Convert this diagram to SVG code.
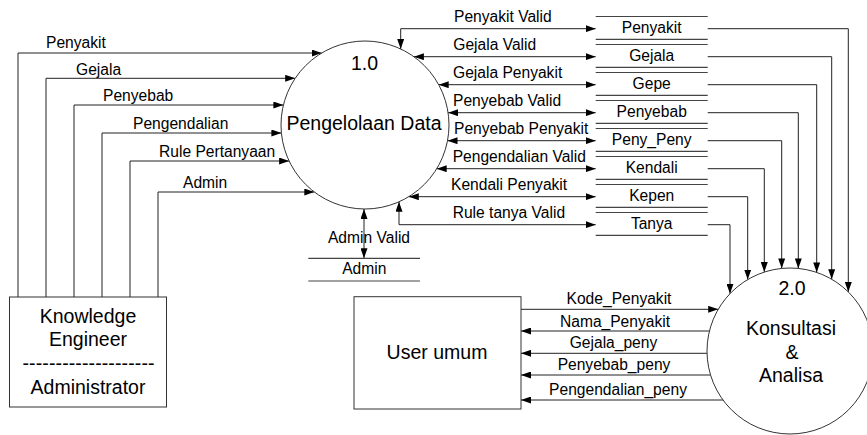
<svg xmlns="http://www.w3.org/2000/svg" width="867" height="435" viewBox="0 0 867 435">
<defs>
<style>
text{font-family:"Liberation Sans",Arial,sans-serif;fill:#000}
.big{font-size:19.5px;text-anchor:middle}
.lbl{font-size:15.6px}
.ctr{text-anchor:middle}
.shape{fill:#fff;stroke:#333;stroke-width:1}
.store{stroke:#444;stroke-width:1.2;fill:none}
.flow{fill:none;stroke:#222;stroke-width:1}
.one{marker-end:url(#ah)}
.two{marker-start:url(#ah);marker-end:url(#ah)}
</style>
<marker id="ah" markerWidth="11" markerHeight="7" refX="10" refY="3.5" orient="auto-start-reverse" markerUnits="userSpaceOnUse"><path d="M0,0 L10,3.5 L0,7 z" fill="#000"/></marker>
</defs>
<rect width="867" height="435" fill="#fff"/>

<g id="connectors">
<path class="flow one" d="M18,297 V53 H321.7"/>
<path class="flow one" d="M46,297 V78.3 H295.2"/>
<path class="flow one" d="M74,297 V105 H283.4"/>
<path class="flow one" d="M102,297 V133 H281.4"/>
<path class="flow one" d="M130,297 V161 H289.1"/>
<path class="flow one" d="M158,297 V192 H314.3"/>

<path class="flow two" d="M400.7,49 V28.7 H595.7"/>
<path class="flow two" d="M413.9,56.7 H595.7"/>
<path class="flow two" d="M438.7,84.7 H595.7"/>
<path class="flow two" d="M448.1,112.7 H595.7"/>
<path class="flow two" d="M447.5,140.7 H595.7"/>
<path class="flow two" d="M436.7,168.7 H595.7"/>
<path class="flow two" d="M408.8,196.7 H595.7"/>
<path class="flow two" d="M399,201.8 V224.7 H595.7"/>
<path class="flow two" d="M364,209 V258.3"/>

<path class="flow one" d="M707.7,28.7 H848.3 V291.9"/>
<path class="flow one" d="M707.7,56.7 H831.7 V279.2"/>
<path class="flow one" d="M707.7,84.7 H816.7 V272.4"/>
<path class="flow one" d="M707.7,112.7 H798.3 V268.4"/>
<path class="flow one" d="M707.7,140.7 H781.7 V268.4"/>
<path class="flow one" d="M707.7,168.7 H764.3 V272.1"/>
<path class="flow one" d="M707.7,196.7 H747.7 V279.6"/>
<path class="flow one" d="M707.7,224.7 H730 V293.7"/>

<path class="flow one" d="M521,309.3 H718.2"/>
<path class="flow one" d="M709.4,331 H521"/>
<path class="flow one" d="M707,353.3 H521"/>
<path class="flow one" d="M710.5,375 H521"/>
<path class="flow one" d="M723,400 H521"/>

<g id="connector-labels">
<text class="lbl" x="46" y="48">Penyakit</text>
<text class="lbl" x="76" y="75">Gejala</text>
<text class="lbl" x="103" y="101">Penyebab</text>
<text class="lbl" x="133" y="129">Pengendalian</text>
<text class="lbl" x="159" y="157">Rule Pertanyaan</text>
<text class="lbl" x="183" y="187.5">Admin</text>

<text class="lbl" x="454" y="21.6">Penyakit Valid</text>
<text class="lbl" x="453.3" y="49.6">Gejala Valid</text>
<text class="lbl" x="453" y="78">Gejala Penyakit</text>
<text class="lbl" x="453" y="106">Penyebab Valid</text>
<text class="lbl" x="454" y="134.2">Penyebab Penyakit</text>
<text class="lbl" x="452.7" y="161.8">Pengendalian Valid</text>
<text class="lbl" x="451" y="190">Kendali Penyakit</text>
<text class="lbl" x="452.7" y="218.2">Rule tanya Valid</text>
<text class="lbl ctr" x="369" y="243.3">Admin Valid</text>

<text class="lbl ctr" x="619" y="304.3">Kode_Penyakit</text>
<text class="lbl ctr" x="615" y="326.7">Nama_Penyakit</text>
<text class="lbl ctr" x="613.5" y="348">Gejala_peny</text>
<text class="lbl ctr" x="614" y="370">Penyebab_peny</text>
<text class="lbl ctr" x="618" y="395">Pengendalian_peny</text>
</g>
</g>

<g id="knowledge-engineer">
<rect class="shape" x="9.5" y="297" width="157" height="110"/>
<text class="big" x="88" y="322.7">Knowledge</text>
<text class="big" x="88" y="345.7">Engineer</text>
<text class="big" x="88.5" y="369.5" textLength="132" lengthAdjust="spacing">--------------------</text>
<text class="big" x="88" y="394">Administrator</text>
</g>

<g id="process-1">
<circle class="shape" cx="365" cy="125" r="84"/>
<text class="big" x="364.5" y="70">1.0</text>
<text class="big" x="364" y="130">Pengelolaan Data</text>
</g>

<g id="process-2">
<circle class="shape" cx="790" cy="351" r="83"/>
<text class="big" x="792" y="295">2.0</text>
<text class="big" x="791" y="335">Konsultasi</text>
<text class="big" x="792" y="358.5">&amp;</text>
<text class="big" x="791" y="382">Analisa</text>
</g>

<g id="user-umum">
<rect class="shape" x="354" y="296.7" width="167" height="112.3"/>
<text class="big" x="437" y="359">User umum</text>
</g>

<g id="store-admin">
<path class="store" d="M308.3,258.3 H420 M308.3,281 H420"/>
<text class="lbl ctr" x="364.3" y="274">Admin</text>
</g>

<g id="store-penyakit">
<path class="store" d="M595.7,16.5 H707.7 M595.7,39.3 H707.7"/>
<text class="lbl ctr" x="651.7" y="32.7">Penyakit</text>
</g>
<g id="store-gejala">
<path class="store" d="M595.7,44.5 H707.7 M595.7,67.3 H707.7"/>
<text class="lbl ctr" x="651.7" y="60.7">Gejala</text>
</g>
<g id="store-gepe">
<path class="store" d="M595.7,72.5 H707.7 M595.7,95.3 H707.7"/>
<text class="lbl ctr" x="651.7" y="88.7">Gepe</text>
</g>
<g id="store-penyebab">
<path class="store" d="M595.7,100.5 H707.7 M595.7,123.3 H707.7"/>
<text class="lbl ctr" x="651.7" y="116.7">Penyebab</text>
</g>
<g id="store-peny-peny">
<path class="store" d="M595.7,128.5 H707.7 M595.7,151.3 H707.7"/>
<text class="lbl ctr" x="651.7" y="144.7">Peny_Peny</text>
</g>
<g id="store-kendali">
<path class="store" d="M595.7,156.5 H707.7 M595.7,179.3 H707.7"/>
<text class="lbl ctr" x="651.7" y="172.7">Kendali</text>
</g>
<g id="store-kepen">
<path class="store" d="M595.7,184.5 H707.7 M595.7,207.3 H707.7"/>
<text class="lbl ctr" x="651.7" y="200.7">Kepen</text>
</g>
<g id="store-tanya">
<path class="store" d="M595.7,212.5 H707.7 M595.7,235.3 H707.7"/>
<text class="lbl ctr" x="651.7" y="228.7">Tanya</text>
</g>
</svg>
